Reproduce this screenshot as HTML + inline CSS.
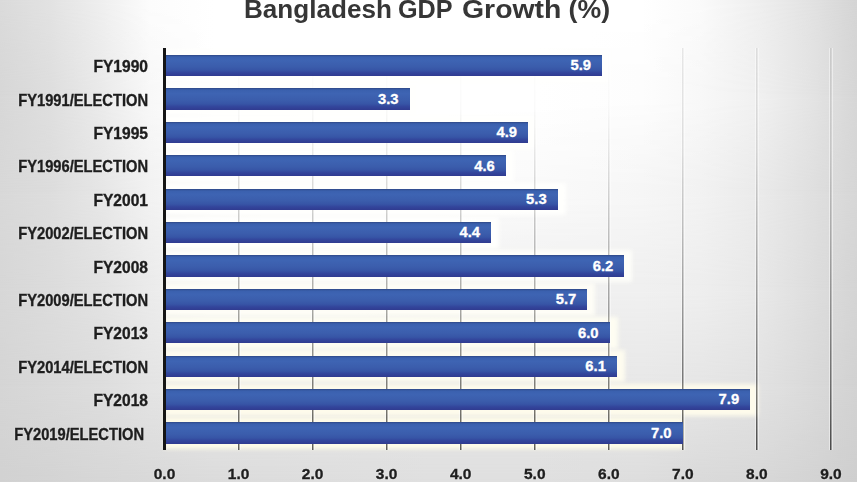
<!DOCTYPE html>
<html><head><meta charset="utf-8"><style>
html,body{margin:0;padding:0}
body{width:857px;height:482px;overflow:hidden;position:relative;font-family:"Liberation Sans",sans-serif;background:#d8d8d8}
.bgr{position:absolute;left:0;width:857px}
.bgm{position:absolute;left:0;top:0;width:100%;height:100%;-webkit-mask-image:linear-gradient(180deg,#000,transparent);mask-image:linear-gradient(180deg,#000,transparent)}
.title{position:absolute;transform-origin:0 0;top:-6px;font-weight:bold;font-size:26.7px;color:#363636;white-space:nowrap;line-height:30px}
.grid{position:absolute;top:48px;height:402px;width:2px;background:linear-gradient(180deg,rgba(0,0,0,0.0) 0%,rgba(0,0,0,0.02) 15%,rgba(0,0,0,0.08) 25%,rgba(0,0,0,0.18) 40%,rgba(0,0,0,0.3) 60%,rgba(0,0,0,0.45) 80%,rgba(0,0,0,0.62) 100%);-webkit-mask-image:linear-gradient(90deg,#000 50%,rgba(0,0,0,0.45) 50%);mask-image:linear-gradient(90deg,#000 50%,rgba(0,0,0,0.45) 50%)}
.g2{background:linear-gradient(180deg,rgba(0,0,0,0.08) 0%,rgba(0,0,0,0.10) 25%,rgba(0,0,0,0.22) 45%,rgba(0,0,0,0.36) 65%,rgba(0,0,0,0.5) 85%,rgba(0,0,0,0.65) 100%)}
.gridh{position:absolute;top:48px;height:402px;width:1px;background:rgba(255,255,255,0.45)}
.glow{position:absolute;left:164px;height:32.2px;filter:blur(2px)}
.bar{position:absolute;left:166px;height:21.2px;background:linear-gradient(180deg,#2f4886 0%,#3a60ae 9%,#3e64b3 25%,#3b5dac 55%,#3755a6 72%,#33469c 84%,#303b90 100%)}
.bar span{position:absolute;right:11px;top:2.4px;font-size:14.8px;font-weight:bold;color:#fff;line-height:16px;-webkit-text-stroke:0.3px #fff}
.yl{position:absolute;left:0;text-align:right;font-size:14.7px;font-weight:bold;color:#1e1e1e;line-height:17px;white-space:nowrap;-webkit-text-stroke:0.35px #1e1e1e;text-shadow:0 0 2px rgba(255,255,255,0.6);transform:scaleY(1.07);transform-origin:100% 75%}
.axis{position:absolute;left:163px;top:48px;width:3px;height:402px;background:#151515}
.xl{position:absolute;top:465px;width:60px;text-align:center;font-size:15.5px;font-weight:bold;color:#1e1e1e;line-height:18px;-webkit-text-stroke:0.35px #1e1e1e;text-shadow:0 0 2px rgba(255,255,255,0.6)}
</style></head><body><div id="w" style="position:absolute;left:0;top:0;width:857px;height:482px;filter:blur(0.45px)">
<div class="bgr" style="top:0px;height:96px;background:linear-gradient(90deg,rgb(215,215,215) 0px,rgb(222,222,222) 50px,rgb(234,234,234) 100px,rgb(248,248,248) 150px,rgb(255,255,255) 214px,rgb(255,255,255) 321px,rgb(255,255,255) 428px,rgb(255,255,255) 535px,rgb(253,253,253) 642px,rgb(248,248,248) 700px,rgb(240,240,240) 760px,rgb(228,228,228) 810px,rgb(214,214,214) 857px)"><div class="bgm" style="background:linear-gradient(90deg,rgb(218,218,218) 0px,rgb(226,226,226) 50px,rgb(238,238,238) 100px,rgb(252,252,252) 150px,rgb(255,255,255) 214px,rgb(255,255,255) 321px,rgb(255,255,255) 428px,rgb(255,255,255) 535px,rgb(255,255,255) 642px,rgb(250,250,250) 700px,rgb(238,238,238) 760px,rgb(226,226,226) 810px,rgb(212,212,212) 857px)"></div></div>
<div class="bgr" style="top:96px;height:97px;background:linear-gradient(90deg,rgb(216,216,216) 0px,rgb(221,221,221) 50px,rgb(230,230,230) 100px,rgb(242,242,242) 150px,rgb(250,250,250) 214px,rgb(252,252,252) 321px,rgb(252,252,252) 428px,rgb(250,250,250) 535px,rgb(246,246,246) 642px,rgb(242,242,242) 700px,rgb(234,234,234) 760px,rgb(224,224,224) 810px,rgb(214,214,214) 857px)"><div class="bgm" style="background:linear-gradient(90deg,rgb(215,215,215) 0px,rgb(222,222,222) 50px,rgb(234,234,234) 100px,rgb(248,248,248) 150px,rgb(255,255,255) 214px,rgb(255,255,255) 321px,rgb(255,255,255) 428px,rgb(255,255,255) 535px,rgb(253,253,253) 642px,rgb(248,248,248) 700px,rgb(240,240,240) 760px,rgb(228,228,228) 810px,rgb(214,214,214) 857px)"></div></div>
<div class="bgr" style="top:193px;height:96px;background:linear-gradient(90deg,rgb(215,215,215) 0px,rgb(220,220,220) 50px,rgb(226,226,226) 100px,rgb(235,235,235) 150px,rgb(245,245,245) 214px,rgb(245,245,245) 321px,rgb(242,242,242) 428px,rgb(240,240,240) 535px,rgb(240,240,240) 642px,rgb(238,238,238) 700px,rgb(232,232,232) 760px,rgb(222,222,222) 810px,rgb(212,212,212) 857px)"><div class="bgm" style="background:linear-gradient(90deg,rgb(216,216,216) 0px,rgb(221,221,221) 50px,rgb(230,230,230) 100px,rgb(242,242,242) 150px,rgb(250,250,250) 214px,rgb(252,252,252) 321px,rgb(252,252,252) 428px,rgb(250,250,250) 535px,rgb(246,246,246) 642px,rgb(242,242,242) 700px,rgb(234,234,234) 760px,rgb(224,224,224) 810px,rgb(214,214,214) 857px)"></div></div>
<div class="bgr" style="top:289px;height:97px;background:linear-gradient(90deg,rgb(213,213,213) 0px,rgb(217,217,217) 50px,rgb(221,221,221) 100px,rgb(228,228,228) 150px,rgb(232,232,232) 214px,rgb(232,232,232) 321px,rgb(230,230,230) 428px,rgb(230,230,230) 535px,rgb(232,232,232) 642px,rgb(230,230,230) 700px,rgb(226,226,226) 760px,rgb(218,218,218) 810px,rgb(210,210,210) 857px)"><div class="bgm" style="background:linear-gradient(90deg,rgb(215,215,215) 0px,rgb(220,220,220) 50px,rgb(226,226,226) 100px,rgb(235,235,235) 150px,rgb(245,245,245) 214px,rgb(245,245,245) 321px,rgb(242,242,242) 428px,rgb(240,240,240) 535px,rgb(240,240,240) 642px,rgb(238,238,238) 700px,rgb(232,232,232) 760px,rgb(222,222,222) 810px,rgb(212,212,212) 857px)"></div></div>
<div class="bgr" style="top:386px;height:96px;background:linear-gradient(90deg,rgb(210,210,210) 0px,rgb(212,212,212) 50px,rgb(215,215,215) 100px,rgb(217,217,217) 150px,rgb(220,220,220) 214px,rgb(222,222,222) 321px,rgb(224,224,224) 428px,rgb(224,224,224) 535px,rgb(222,222,222) 642px,rgb(218,218,218) 700px,rgb(216,216,216) 760px,rgb(212,212,212) 810px,rgb(207,207,207) 857px)"><div class="bgm" style="background:linear-gradient(90deg,rgb(213,213,213) 0px,rgb(217,217,217) 50px,rgb(221,221,221) 100px,rgb(228,228,228) 150px,rgb(232,232,232) 214px,rgb(232,232,232) 321px,rgb(230,230,230) 428px,rgb(230,230,230) 535px,rgb(232,232,232) 642px,rgb(230,230,230) 700px,rgb(226,226,226) 760px,rgb(218,218,218) 810px,rgb(210,210,210) 857px)"></div></div>
<div class="glow" style="top:49.60px;width:446.09px;background:rgb(255, 255, 253)"></div>
<div class="glow" style="top:82.99px;width:253.56px;background:rgb(255, 255, 253)"></div>
<div class="glow" style="top:116.38px;width:372.05px;background:rgb(255, 255, 253)"></div>
<div class="glow" style="top:149.77px;width:349.83px;background:rgb(255, 255, 253)"></div>
<div class="glow" style="top:183.16px;width:401.66px;background:rgb(255, 255, 253)"></div>
<div class="glow" style="top:216.55px;width:335.02px;background:rgb(255, 255, 253)"></div>
<div class="glow" style="top:249.94px;width:468.31px;background:rgb(254, 254, 249)"></div>
<div class="glow" style="top:283.33px;width:431.28px;background:rgb(254, 253, 246)"></div>
<div class="glow" style="top:316.72px;width:453.50px;background:rgb(254, 253, 242)"></div>
<div class="glow" style="top:350.11px;width:460.90px;background:rgb(254, 252, 239)"></div>
<div class="glow" style="top:383.50px;width:594.20px;background:rgb(254, 251, 235)"></div>
<div class="glow" style="top:416.89px;width:518.55px;background:rgb(254, 251, 232)"></div>
<div class="grid" style="left:237.55px"></div><div class="gridh" style="left:236.55px"></div><div class="gridh" style="left:239.55px"></div>
<div class="grid" style="left:311.60px"></div><div class="gridh" style="left:310.60px"></div><div class="gridh" style="left:313.60px"></div>
<div class="grid" style="left:385.65px"></div><div class="gridh" style="left:384.65px"></div><div class="gridh" style="left:387.65px"></div>
<div class="grid" style="left:459.70px"></div><div class="gridh" style="left:458.70px"></div><div class="gridh" style="left:461.70px"></div>
<div class="grid" style="left:533.75px"></div><div class="gridh" style="left:532.75px"></div><div class="gridh" style="left:535.75px"></div>
<div class="grid" style="left:607.80px"></div><div class="gridh" style="left:606.80px"></div><div class="gridh" style="left:609.80px"></div>
<div class="grid g2" style="left:681.85px"></div><div class="gridh" style="left:680.85px"></div><div class="gridh" style="left:683.85px"></div>
<div class="grid g2" style="left:755.90px"></div><div class="gridh" style="left:754.90px"></div><div class="gridh" style="left:757.90px"></div>
<div class="grid g2" style="left:829.95px"></div><div class="gridh" style="left:828.95px"></div><div class="gridh" style="left:831.95px"></div>
<div class="bar" style="top:55.10px;width:436.09px"><span>5.9</span></div>
<div class="yl" style="top:59.30px;width:148px;transform:scale(1.06,1.07)">FY1990</div>
<div class="bar" style="top:88.49px;width:243.56px"><span>3.3</span></div>
<div class="yl" style="top:92.69px;width:148px;">FY1991/ELECTION</div>
<div class="bar" style="top:121.88px;width:362.05px"><span>4.9</span></div>
<div class="yl" style="top:126.08px;width:148px;transform:scale(1.06,1.07)">FY1995</div>
<div class="bar" style="top:155.27px;width:339.83px"><span>4.6</span></div>
<div class="yl" style="top:159.47px;width:148px;">FY1996/ELECTION</div>
<div class="bar" style="top:188.66px;width:391.66px"><span>5.3</span></div>
<div class="yl" style="top:192.86px;width:148px;transform:scale(1.06,1.07)">FY2001</div>
<div class="bar" style="top:222.05px;width:325.02px"><span>4.4</span></div>
<div class="yl" style="top:226.25px;width:148px;">FY2002/ELECTION</div>
<div class="bar" style="top:255.44px;width:458.31px"><span>6.2</span></div>
<div class="yl" style="top:259.64px;width:148px;transform:scale(1.06,1.07)">FY2008</div>
<div class="bar" style="top:288.83px;width:421.28px"><span>5.7</span></div>
<div class="yl" style="top:293.03px;width:148px;">FY2009/ELECTION</div>
<div class="bar" style="top:322.22px;width:443.50px"><span>6.0</span></div>
<div class="yl" style="top:326.42px;width:148px;transform:scale(1.06,1.07)">FY2013</div>
<div class="bar" style="top:355.61px;width:450.90px"><span>6.1</span></div>
<div class="yl" style="top:359.81px;width:148px;">FY2014/ELECTION</div>
<div class="bar" style="top:389.00px;width:584.20px"><span>7.9</span></div>
<div class="yl" style="top:393.20px;width:148px;transform:scale(1.06,1.07)">FY2018</div>
<div class="bar" style="top:422.39px;width:516.55px"><span>7.0</span></div>
<div class="yl" style="top:426.59px;width:144px;">FY2019/ELECTION</div>
<div class="axis"></div>
<div class="xl" style="left:134.50px">0.0</div>
<div class="xl" style="left:208.55px">1.0</div>
<div class="xl" style="left:282.60px">2.0</div>
<div class="xl" style="left:356.65px">3.0</div>
<div class="xl" style="left:430.70px">4.0</div>
<div class="xl" style="left:504.75px">5.0</div>
<div class="xl" style="left:578.80px">6.0</div>
<div class="xl" style="left:652.85px">7.0</div>
<div class="xl" style="left:726.90px">8.0</div>
<div class="xl" style="left:800.95px">9.0</div>
<div class="title" style="left:244.3px;transform:scaleX(0.978)">Bangladesh</div><div class="title" style="left:398.2px;transform:scaleX(0.943)">GDP</div><div class="title" style="left:461.6px;transform:scaleX(1.064)">Growth</div><div class="title" style="left:568.6px">(%)</div>
</div></body></html>
